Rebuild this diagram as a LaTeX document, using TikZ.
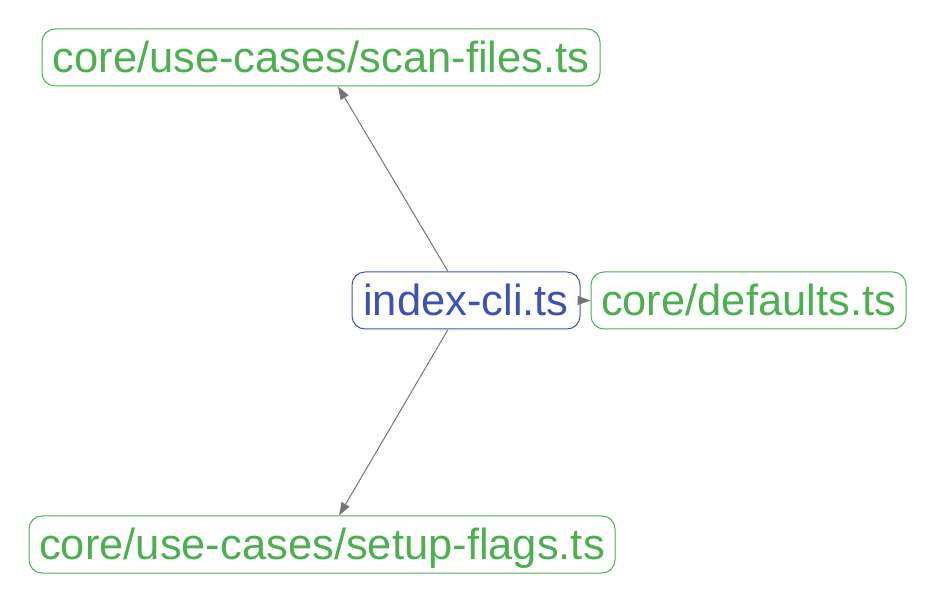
\documentclass[tikz,border=0pt]{standalone}
\usepackage{fontspec}
\setmainfont{Liberation Sans}
\usetikzlibrary{arrows.meta}
\definecolor{fgreen}{HTML}{4CAF50}
\definecolor{fblue}{HTML}{3F51B5}
\definecolor{edgegray}{HTML}{757575}
\begin{document}
\begin{tikzpicture}[x=1pt,y=1pt,
  filebox/.style={draw=fgreen, text=fgreen, line width=1pt, rounded corners=13pt,
    minimum height=57pt, inner sep=0pt, text height=33pt, text depth=3pt,
    font=\fontsize{43.5}{50}\selectfont},
  mainbox/.style={filebox, draw=fblue, text=fblue},
  dep/.style={draw=edgegray, line width=1pt, -{Triangle[length=13pt,width=9pt]}}]
\useasboundingbox (0,0) rectangle (935,603);
\node[filebox, minimum width=558pt] (scan) at (321,545.5) {core/use-cases/scan-files.ts};
\node[mainbox, minimum width=228pt] (cli) at (466,302.5) {index-cli.ts};
\node[filebox, minimum width=315pt] (def) at (748.5,302.5) {core/defaults.ts};
\node[filebox, minimum width=586pt] (setup) at (322,58.5) {core/use-cases/setup-flags.ts};
\draw[dep] ([xshift=-18pt]cli.north) -- ([xshift=17pt]scan.south);
\draw[dep] ([xshift=-18pt]cli.south) -- ([xshift=17pt]setup.north);
\draw[dep] (cli.east) -- (def.west);
\end{tikzpicture}
\end{document}
